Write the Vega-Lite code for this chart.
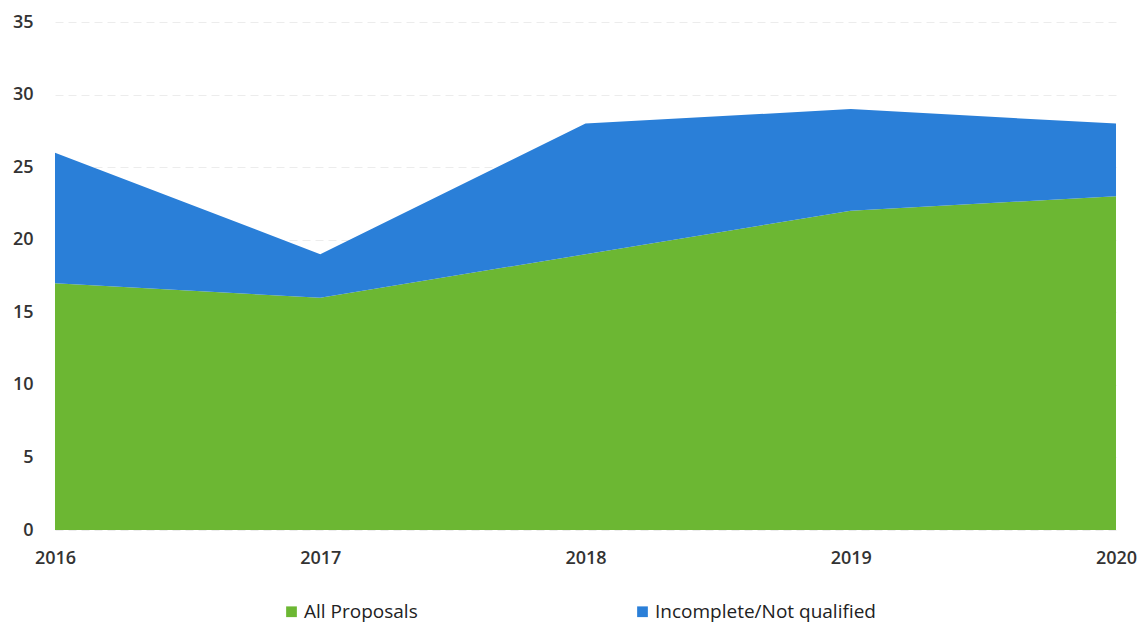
{
  "$schema": "https://vega.github.io/schema/vega-lite/v6.json",
  "width": 1061,
  "height": 508,
  "autosize": "none",
  "padding": {"left": 55, "top": 22, "right": 23, "bottom": 93},
  "background": "white",
  "config": {
    "view": {"stroke": null},
    "font": "Open Sans"
  },
  "data": {
    "values": [
      {"year": "2016", "series": "All Proposals", "value": 17},
      {"year": "2017", "series": "All Proposals", "value": 16},
      {"year": "2018", "series": "All Proposals", "value": 19},
      {"year": "2019", "series": "All Proposals", "value": 22},
      {"year": "2020", "series": "All Proposals", "value": 23},
      {"year": "2016", "series": "Incomplete/Not qualified", "value": 9},
      {"year": "2017", "series": "Incomplete/Not qualified", "value": 3},
      {"year": "2018", "series": "Incomplete/Not qualified", "value": 9},
      {"year": "2019", "series": "Incomplete/Not qualified", "value": 7},
      {"year": "2020", "series": "Incomplete/Not qualified", "value": 5}
    ]
  },
  "mark": {"type": "area", "opacity": 1},
  "encoding": {
    "x": {
      "field": "year",
      "type": "ordinal",
      "scale": {"type": "point", "padding": 0},
      "axis": {
        "title": null,
        "labelAngle": 0,
        "domain": false,
        "ticks": false,
        "grid": false,
        "labelFontSize": 18,
        "labelFont": "Open Sans",
        "labelFontWeight": 600,
        "labelColor": "#333333",
        "labelPadding": 19,
        "labelBound": false,
        "labelOverlap": false
      }
    },
    "y": {
      "field": "value",
      "type": "quantitative",
      "stack": "zero",
      "scale": {"domain": [0, 35], "nice": false},
      "axis": {
        "title": null,
        "values": [0, 5, 10, 15, 20, 25, 30, 35],
        "domain": false,
        "ticks": false,
        "grid": true,
        "gridColor": "#ececec",
        "gridDash": [8, 5],
        "gridWidth": 1,
        "labelFontSize": 18,
        "labelFont": "Open Sans",
        "labelFontWeight": 600,
        "labelColor": "#333333",
        "labelPadding": 22
      }
    },
    "color": {
      "field": "series",
      "type": "nominal",
      "scale": {
        "domain": ["All Proposals", "Incomplete/Not qualified"],
        "range": ["#6cb733", "#2a7fd8"]
      },
      "legend": {
        "title": null,
        "orient": "none",
        "legendX": 227,
        "legendY": 580,
        "direction": "horizontal",
        "columns": 2,
        "columnPadding": 215,
        "padding": 0,
        "symbolType": "square",
        "symbolSize": 115,
        "symbolStrokeWidth": 0,
        "symbolOffset": 0,
        "labelOffset": 3,
        "labelFontSize": 19,
        "labelFont": "Open Sans",
        "labelColor": "#222222",
        "labelLimit": 400
      }
    },
    "order": {"field": "series", "sort": "ascending"}
  }
}
